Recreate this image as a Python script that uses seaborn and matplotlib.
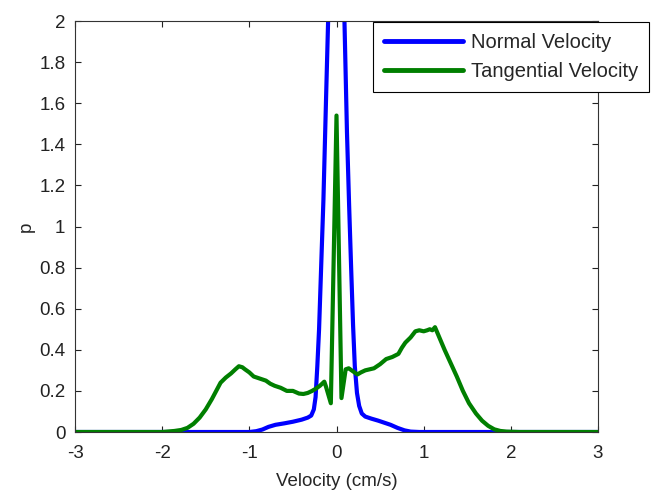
import numpy as np
import pandas as pd
import seaborn as sns
import matplotlib
matplotlib.use("Agg")
import matplotlib.pyplot as plt

# ---- data ----
normal_x = [-3.0, -2.0, -1.2, -1.0, -0.92, -0.85, -0.78, -0.7, -0.6, -0.5, -0.4, -0.33,
            -0.29, -0.26, -0.24, -0.22, -0.2, -0.17, -0.15, -0.12, -0.09, -0.05, 0.0,
            0.05, 0.086, 0.12, 0.145, 0.167, 0.19, 0.21, 0.235, 0.26, 0.29, 0.33, 0.4,
            0.48, 0.55, 0.62, 0.7, 0.78, 0.85, 0.95, 1.5, 2.0, 3.0]
normal_y = [0.0, 0.0, 0.0, 0.0, 0.004, 0.012, 0.025, 0.035, 0.042, 0.05, 0.06, 0.07,
            0.08, 0.11, 0.17, 0.32, 0.5, 0.88, 1.13, 1.62, 2.1, 3.0, 4.0,
            3.0, 2.1, 1.46, 1.1, 0.81, 0.52, 0.32, 0.19, 0.127, 0.09, 0.075, 0.065,
            0.055, 0.045, 0.035, 0.02, 0.008, 0.002, 0.0, 0.0, 0.0, 0.0]

tang_x = [-3.0, -2.0, -1.86, -1.78, -1.71, -1.64, -1.57, -1.5, -1.43, -1.33, -1.27, -1.21,
          -1.16, -1.12, -1.08, -1.05, -1.0, -0.95, -0.88, -0.81, -0.76, -0.71, -0.64,
          -0.57, -0.5, -0.43, -0.38, -0.33, -0.28, -0.24, -0.19, -0.14, -0.12, -0.065,
          0.0, 0.057, 0.105, 0.14, 0.19, 0.24, 0.28, 0.33, 0.38, 0.43, 0.5, 0.57, 0.64,
          0.71, 0.75, 0.79, 0.85, 0.905, 0.95, 1.0, 1.04, 1.07, 1.1, 1.13, 1.18, 1.24,
          1.31, 1.38, 1.45, 1.52, 1.6, 1.67, 1.74, 1.81, 1.88, 1.95, 2.1, 3.0]
tang_y = [0.0, 0.0, 0.005, 0.01, 0.02, 0.04, 0.07, 0.11, 0.16, 0.24, 0.265, 0.285,
          0.305, 0.32, 0.315, 0.305, 0.29, 0.27, 0.26, 0.25, 0.235, 0.225, 0.215,
          0.2, 0.2, 0.187, 0.185, 0.19, 0.2, 0.21, 0.225, 0.245, 0.22, 0.14,
          1.54, 0.165, 0.305, 0.31, 0.295, 0.28, 0.29, 0.3, 0.305, 0.31, 0.33, 0.355, 0.365,
          0.38, 0.41, 0.435, 0.46, 0.49, 0.495, 0.49, 0.495, 0.5, 0.495, 0.51, 0.46, 0.40,
          0.335, 0.27, 0.2, 0.14, 0.09, 0.055, 0.03, 0.013, 0.005, 0.002, 0.0, 0.0]

series_names = ["Normal Velocity", "Tangential Velocity"]
series_colors = ["#0000ff", "#007f00"]
x_ticks = [-3, -2, -1, 0, 1, 2, 3]
y_ticks = [0, 0.2, 0.4, 0.6, 0.8, 1, 1.2, 1.4, 1.6, 1.8, 2]
y_ticklabels = ["0", "0.2", "0.4", "0.6", "0.8", "1", "1.2", "1.4", "1.6", "1.8", "2"]

df = pd.concat([
    pd.DataFrame({"x": normal_x, "y": normal_y, "series": series_names[0]}),
    pd.DataFrame({"x": tang_x, "y": tang_y, "series": series_names[1]}),
], ignore_index=True)

sns.set_style("white")
plt.rcParams["font.family"] = ["Liberation Sans", "DejaVu Sans"]
plt.rcParams["xtick.direction"] = "in"
plt.rcParams["ytick.direction"] = "in"

fig = plt.figure(figsize=(6.51, 4.90), dpi=100)
ax = fig.add_axes([75 / 651, 1 - 432 / 490, (598 - 75) / 651, (432 - 21) / 490])

sns.lineplot(data=df, x="x", y="y", hue="series", palette=dict(zip(series_names, series_colors)),
             linewidth=3, sort=False, estimator=None, ax=ax)

ax.set_xlim(-3, 3)
ax.set_ylim(0, 2)
ax.set_xticks(x_ticks)
ax.set_xticklabels([str(t) for t in x_ticks])
ax.set_yticks(y_ticks)
ax.set_yticklabels(y_ticklabels)
ax.tick_params(axis="both", which="both", direction="in", length=4, width=0.8,
               top=True, right=True, bottom=True, left=True, labelsize=13.5, colors="#222222")
ax.tick_params(axis="x", pad=9)
ax.tick_params(axis="y", pad=7)
for sp in ax.spines.values():
    sp.set_visible(True)
    sp.set_color("#333333")
    sp.set_linewidth(0.8)

ax.set_xlabel("Velocity (cm/s)", fontsize=13.5, labelpad=8)
ax.set_ylabel("p", fontsize=13.5, labelpad=3)

leg = ax.legend(loc="upper right", bbox_to_anchor=(649 / 651, 1 - 22 / 490), bbox_transform=fig.transFigure,
                borderaxespad=0, fontsize=14.5, frameon=True, fancybox=False, edgecolor="black",
                framealpha=1, handlelength=3.9, handletextpad=0.4, borderpad=0.55,
                labelspacing=0.5, title=None)
leg.get_frame().set_linewidth(0.8)
for line in leg.get_lines():
    line.set_linewidth(3.5)

fig.savefig("out.png", dpi=100)
